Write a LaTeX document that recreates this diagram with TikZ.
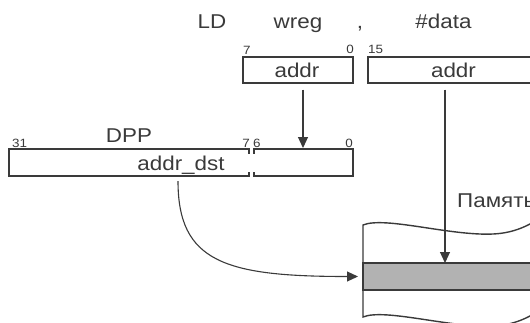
\documentclass[tikz,border=0pt]{standalone}
\usepackage{fontspec}
\setmainfont{Liberation Sans}[FakeStretch=1.12]
\usetikzlibrary{arrows.meta,calc}
\definecolor{ink}{HTML}{3A3A3A}
\definecolor{cellgray}{HTML}{B2B2B2}
\begin{document}
\begin{tikzpicture}[x=1pt,y=-1pt,
  line/.style={draw=ink,line width=1.4pt},
  big/.style={text=ink,font=\fontsize{20}{24}\selectfont,inner sep=0pt},
  small/.style={text=ink,font=\fontsize{12}{14}\selectfont,inner sep=0pt},
  regbox/.style={draw=ink,line width=1.4pt,inner sep=0pt},
  hold/.style={inner sep=0pt,outer sep=0pt},
  arr/.style={draw=ink,line width=1.1pt,-{Triangle[length=11pt,width=10pt]}}]
\useasboundingbox (0,0) rectangle (530,322);
\clip (0,0) rectangle (530,322);
% instruction
\node[big,anchor=base] (ld) at (212,28) {LD};
\node[big,anchor=base] (wreg) at (298,28) {wreg};
\node[big,anchor=base] (comma) at (360,28) {,};
\node[big,anchor=base] (data) at (443.5,28) {\#data};
% operand boxes
\node[regbox,minimum width=110pt,minimum height=26pt] (wa) at (298,70) {};
\node[big,anchor=base] (wat) at (297,77) {addr};
\node[regbox,minimum width=170pt,minimum height=26pt] (da) at (453,70) {};
\node[big,anchor=base] (dat) at (453.5,77) {addr};
\node[small,anchor=base west] (w7) at (243,54) {7};
\node[small,anchor=base east] (w0) at (354,53) {0};
\node[small,anchor=base west] (d15) at (368,53) {15};
% DPP register
\node[big,anchor=base] (dpp) at (129,142) {DPP};
\node[small,anchor=base west] (n31) at (12,147) {31};
\node[small,anchor=base east] (n7) at (250,147) {7};
\node[small,anchor=base west] (n6) at (253,147) {6};
\node[small,anchor=base east] (n0) at (353,147) {0};
\node[hold,minimum width=240pt,minimum height=27pt] (hi) at (129,162.5) {};
\node[hold,minimum width=99pt,minimum height=27pt] (lo) at (303.5,162.5) {};
\draw[line] ($(hi.north east)+(0,4.5)$) -- (hi.north east) -- (hi.north west) -- (hi.south west) -- (hi.south east) -- ++(0,-4.5);
\draw[line] ($(lo.north west)+(0,4.5)$) -- (lo.north west) -- (lo.north east) -- (lo.south east) -- (lo.south west) -- ++(0,-4.5);
\node[big,anchor=base] (dst) at (181,170) {addr\_dst};
% memory
\draw[line] (545,215) .. controls (530,225) and (515,233) .. (493,234) .. controls (450,236) and (385,216) .. (363,225) -- (363,317) .. controls (385,308) and (450,328) .. (493,326) .. controls (515,325) and (530,317) .. (545,307);
\node[draw=ink,line width=1.6pt,fill=cellgray,hold,minimum width=182pt,minimum height=27pt] (cell) at (454,276.5) {};
\node[big,anchor=base west] (mem) at (457,207) {Память};
% connectors
\draw[arr] ($(wa.south)+(5,6)$) -- ($(lo.north)+(-0.5,-1)$);
\coordinate (dsrc) at ($(da.south)+(-8,6)$);
\draw[arr] (dsrc) -- (dsrc |- cell.north);
\coordinate (csrc) at ($(hi.south)+(49,5)$);
\coordinate (cdst) at ($(cell.west)+(-5,0)$);
\draw[arr] (csrc) .. controls (178,262) and (225,276.5) .. (cdst);
\end{tikzpicture}
\end{document}
